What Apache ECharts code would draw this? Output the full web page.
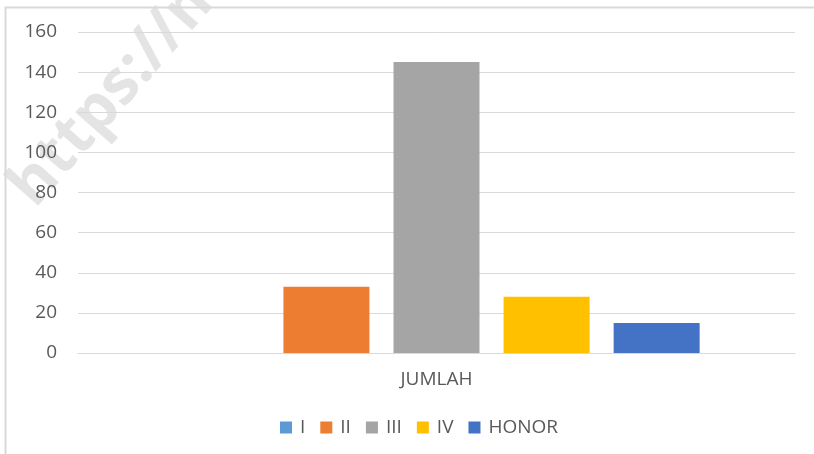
<!DOCTYPE html>
<html lang="en">
<head>
    <meta charset="utf-8">
    <title>JUMLAH</title>
    <script src="https://cdn.jsdelivr.net/npm/echarts@6/dist/echarts.min.js"></script>
    <style>
        html, body { margin: 0; padding: 0; background: #fff; }
        #chart { width: 814px; height: 454px; }
    </style>
</head>
<body>
<div id="chart"></div>
<script>
    // data
    var categories = ['JUMLAH'];
    var seriesNames = ['I', 'II', 'III', 'IV', 'HONOR'];
    var seriesValues = [[0], [33], [145], [28], [15]];
    var seriesColors = ['#5b9bd5', '#ed7d31', '#a5a5a5', '#ffc000', '#4472c4'];
    var yTicks = { min: 0, max: 160, interval: 20 };

    var chartDom = document.getElementById('chart');
    var myChart = echarts.init(chartDom);
    var font = '"Open Sans", "Liberation Sans", sans-serif';

    var series = [];
    for (var i = 0; i < seriesNames.length; i++) {
        series.push({
            name: seriesNames[i],
            type: 'bar',
            data: seriesValues[i],
            barGap: '28%',
            barCategoryGap: '26.6%',
            itemStyle: { color: seriesColors[i] }
        });
    }

    var option = {
        animation: false,
        textStyle: { fontFamily: font },
        grid: {
            left: 78,
            right: 19,
            top: 32,
            bottom: 101,
            containLabel: false
        },
        legend: {
            top: 413,
            left: 275,
            itemWidth: 12,
            itemHeight: 12,
            itemGap: 15,
            icon: 'rect',
            textStyle: { color: '#595959', fontSize: 19, fontFamily: font, padding: [0, 0, 0, 3] },
            data: seriesNames
        },
        xAxis: {
            type: 'category',
            data: categories,
            axisTick: { show: false },
            axisLine: { lineStyle: { color: '#d9d9d9', width: 1 } },
            axisLabel: { color: '#595959', fontSize: 19, margin: 17 }
        },
        yAxis: {
            type: 'value',
            min: yTicks.min,
            max: yTicks.max,
            interval: yTicks.interval,
            axisLine: { show: false },
            axisTick: { show: false },
            axisLabel: { color: '#595959', fontSize: 19, margin: 21 },
            splitLine: { lineStyle: { color: '#d9d9d9', width: 1 } }
        },
        graphic: [
            {
                type: 'rect',
                shape: { x: 5.5, y: 7.5, width: 820, height: 460 },
                style: { fill: 'none', stroke: '#d9d9d9', lineWidth: 2 },
                silent: true
            },
            {
                type: 'text',
                x: 45,
                y: 218,
                rotation: 0.85,
                z: -1,
                style: {
                    text: 'https://m',
                    fill: '#e4e4e4',
                    font: 'bold 62px "Open Sans", sans-serif',
                    textAlign: 'left',
                    textVerticalAlign: 'bottom'
                },
                silent: true
            }
        ],
        series: series
    };

    myChart.setOption(option);
</script>
</body>
</html>
